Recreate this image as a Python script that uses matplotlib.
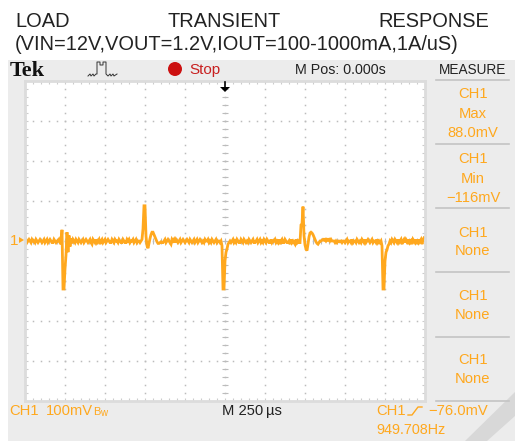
import numpy as np
import matplotlib
matplotlib.use("Agg")
import matplotlib.pyplot as plt
from matplotlib.patches import Polygon, Rectangle, Circle
from matplotlib.ticker import MultipleLocator

# Trace values in mV, one sample every 6.25 us
trace_mv = [
    0, 4, -4, 0, 4, 0, -4, 4, 0, 0, -4, 4, 0, -4, 0, 4, 0, -4, 0, 4,
    -4, 0, 4, -4, 0, 4, 0, -4, -4, 4, 0, -4, 0, 0, 4, -4, -8, 28, -120, -120,
    -70, -35, 22, -28, 14, -14, 6, -6, 4, 0, -4, 4, 0, -4, 4, 0, -4, 0, 4, -4,
    0, 4, 0, -4, 0, 4, -4, -8, 4, 0, -4, 4, -4, 0, 4, -8, 0, 4, -4, 0,
    4, -4, 0, 4, 0, -4, -4, 4, 0, -4, 4, 0, 0, -4, 4, 0, -4, -4, 4, 0,
    -4, -4, 4, 0, 4, -4, 0, 0, 4, -4, 0, 4, -4, 0, 0, -4, 0, 4, 30, 88,
    88, 12, -12, -18, -6, 6, 16, 22, 22, 16, 10, 4, -2, -6, -6, -4, -2, -4, -4, 0,
    4, -4, 0, 4, 0, -4, -8, 4, 0, 4, -4, 4, 0, -4, 0, 4, -4, 0, 4, 0,
    -4, 0, 4, 0, -4, 4, 0, -4, 0, 4, -4, 0, 4, -4, 0, 4, 0, -4, 0, -4,
    4, 0, 0, 4, -4, 0, -4, 4, 0, -4, 0, 4, -4, 0, 0, -4, 0, -12, -120, -120,
    -50, -28, -20, -8, -4, 0, -4, 0, 4, -4, 0, -4, 4, 0, -4, -4, 4, 0, -4, 4,
    0, -4, 0, -4, 4, 0, -4, 0, 4, -4, -4, 0, 4, -4, 0, 4, -4, 0, -4, 4,
    0, -4, 4, 0, -4, -4, 4, -4, 0, 0, 4, -4, 0, -4, 4, -8, 0, 4, -4, -4,
    4, 0, -4, -4, 0, -8, 4, -4, 0, -4, -8, 4, -4, 0, -4, -4, 40, 42, 86, 14,
    -10, -20, -24, -8, 10, 20, 22, 20, 16, 10, 4, -2, -6, -8, -4, 0, 0, 2, 4, 2,
    4, 0, 4, 2, 4, 0, 4, 0, 0, 0, -4, 0, -4, 0, 0, -2, 0, -4, 0, 0,
    -4, 0, 4, -4, 0, 0, -4, 4, -4, 0, 0, -4, 4, 0, -4, 0, -4, 4, 0, -4,
    4, -4, 0, 4, 0, -4, 0, 4, -4, 0, 0, -4, 4, -4, 0, -4, 0, -12, -120, -120,
    -50, -28, -22, -12, -8, 0, -4, 4, 0, -4, 4, 0, -4, 4, -4, 0, 4, -8, 0, 4,
    -4, 4, 0, -8, 4, -4, 0, -8, 4, 0, -4, 4, -8, 4, -4, 0, 4, -8, 4, 8,
]
time_us = -1250 + 6.25 * np.arange(len(trace_mv))

title_words = ["LOAD", "TRANSIENT", "RESPONSE"]
title_line2 = "(VIN=12V,VOUT=1.2V,IOUT=100-1000mA,1A/uS)"
measure_labels = [
    ["CH1", "Max", "88.0mV"],
    ["CH1", "Min", "\u2212116mV"],
    ["CH1", "None"],
    ["CH1", "None"],
    ["CH1", "None"],
]

ORANGE = "#ffa81e"
PANEL = "#ececec"
SANS = "Liberation Sans"

fig = plt.figure(figsize=(5.15, 4.41), dpi=100, facecolor="white")

# pixel coordinates for the instrument frame and its labels
ui = fig.add_axes([0, 0, 1, 1])
ui.set_xlim(0, 515)
ui.set_ylim(441, 0)
ui.axis("off")

ui.add_patch(Rectangle((8, 60), 507, 381, fc=PANEL, ec="none"))
ui.add_patch(Polygon([(465, 441), (515, 392), (515, 416), (487, 441)], fc="#d8d8d8", ec="none"))

for word, x in zip(title_words, [15, 167, 378]):
    ui.text(x, 27, word, family=SANS, fontsize=14.4, color="#222222", va="baseline")
ui.text(15, 50, title_line2, family=SANS, fontsize=14.4, color="#222222", va="baseline")

# top bar
ui.text(10, 76, "Tek", family="Liberation Serif", weight="bold", fontsize=16, color="#111111")
ui.plot([88, 90, 91, 93, 94, 96, 97, 97, 100, 100, 103, 103, 106, 106, 108, 110, 111, 113, 114, 117],
        [76, 74, 76, 74, 76, 74, 74, 62, 62, 65, 65, 62, 62, 74, 76, 74, 76, 74, 76, 74],
        color="#333333", lw=0.7)
ui.add_patch(Circle((175, 69), 7, fc="#cc1111", ec="none"))
ui.text(189, 74, "Stop", family=SANS, fontsize=11, color="#c82020")
ui.text(340, 74, "M Pos: 0.000s", family=SANS, fontsize=10.3, color="#222222", ha="center")
ui.text(473, 74, "MEASURE", family=SANS, fontsize=9.8, color="#222222", ha="center")

# measure column
for y in [80, 144, 208, 272, 337, 401]:
    ui.plot([436, 509], [y, y], color="#c4c4c4", lw=1.2)
text_ys = [[98, 118, 137], [163, 183, 202], [237, 255], [300, 319], [364, 383]]
for labels, ys in zip(measure_labels, text_ys):
    for label, y in zip(labels, ys):
        ui.text(473, y, label, family=SANS, fontsize=10.6, color=ORANGE, ha="center")

# bottom bar
ui.text(9, 415, "CH1", family=SANS, fontsize=10.6, color=ORANGE)
ui.text(46, 415, "100mV", family=SANS, fontsize=10.6, color=ORANGE)
ui.text(93, 415, "B", family=SANS, fontsize=8, color=ORANGE)
ui.text(100, 416, "w", family=SANS, fontsize=7, color=ORANGE)
ui.text(222, 415, "M 250", family=SANS, fontsize=10.6, color="#222222")
ui.text(266, 415, "\u00b5s", family=SANS, fontsize=10.6, color="#222222")
ui.text(376, 415, "CH1", family=SANS, fontsize=10.6, color=ORANGE)
ui.plot([408, 412, 418, 422], [415, 415, 407, 407], color=ORANGE, lw=1)
ui.text(428, 415, "\u221276.0mV", family=SANS, fontsize=10.6, color=ORANGE)
ui.text(376, 434, "949.708Hz", family=SANS, fontsize=10.4, color=ORANGE)

# channel and trigger markers
ui.text(10, 245, "1", family=SANS, fontsize=11, color=ORANGE)
ui.add_patch(Polygon([(19, 237), (24, 240), (19, 243)], fc=ORANGE, ec="none"))
ui.add_patch(Polygon([(415, 271), (421, 266), (421, 276)], fc=ORANGE, ec="none"))
ui.plot([421, 424], [271, 271], color=ORANGE, lw=1.5)

# scope screen: 10 divisions of 250 us, 8 divisions of 100 mV
ax = fig.add_axes([25 / 515, 40 / 441, 400 / 515, 320 / 441], facecolor="white")
ax.set_xlim(-1250, 1250)
ax.set_ylim(-400, 400)
ax.set_xticks(np.arange(-1250, 1251, 250))
ax.set_yticks(np.arange(-400, 401, 100))
ax.xaxis.set_minor_locator(MultipleLocator(50))
ax.yaxis.set_minor_locator(MultipleLocator(20))
ax.tick_params(which="both", direction="in", top=True, right=True, labelbottom=False, labelleft=False,
               length=2.5, width=0.8, color="#cccccc")
for side in ax.spines.values():
    side.set_color("#dcdcdc")
    side.set_linewidth(2)
    side.set_zorder(5)

# graticule dots every 50 us / 20 mV along the division lines
dot_t = np.arange(-1250, 1251, 50)
dot_v = np.arange(-400, 401, 20)
for t in np.arange(-1000, 1001, 250):
    ax.plot(np.full_like(dot_v, t), dot_v, ls="none", marker="s", ms=1.1, mew=0, color="#bcbcbc")
for v in np.arange(-300, 301, 100):
    ax.plot(dot_t, np.full_like(dot_t, v), ls="none", marker="s", ms=1.1, mew=0, color="#bcbcbc")
# centre cross has short dashes
ax.plot(np.zeros_like(dot_v), dot_v, ls="none", marker="_", ms=4, mew=0.8, color="#bcbcbc")
ax.plot(dot_t, np.zeros_like(dot_t), ls="none", marker="|", ms=4, mew=0.8, color="#bcbcbc")

ax.plot(time_us, trace_mv, color=ORANGE, lw=2.0, solid_joinstyle="miter")

# trigger position arrow
ui2 = fig.add_axes([0, 0, 1, 1], facecolor="none")
ui2.set_xlim(0, 515)
ui2.set_ylim(441, 0)
ui2.axis("off")
ui2.plot([225, 225], [82, 88], color="black", lw=1.2)
ui2.add_patch(Polygon([(220, 87), (230, 87), (225, 92)], fc="black", ec="none"))

plt.savefig("out.png", dpi=100)
